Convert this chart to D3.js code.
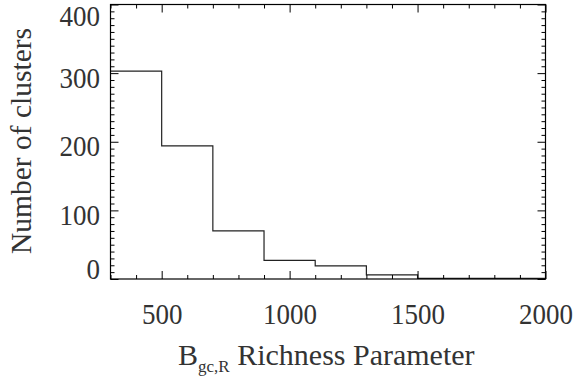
<!DOCTYPE html>
<html><head><meta charset="utf-8">
<script src="https://cdn.jsdelivr.net/npm/d3@7"></script>
<style>body{margin:0;background:#fff}
#c, #c text, #c tspan { font-family: "Times New Roman", "Liberation Serif", Times, serif; }</style>
</head><body>
<svg id="c" width="575" height="379" font-family="Liberation Serif"></svg>
<script>
// Data
const binEdges = [300, 500, 700, 900, 1100, 1300, 1500, 1700, 1900, 2000];
const counts   = [303, 194, 70, 27, 19, 6, 1, 1, 1];
const xTicks = [500, 1000, 1500, 2000];
const yTicks = [0, 100, 200, 300, 400];
const yTitle = "Number of clusters";

const svg = d3.select("#c");
const L = 110.5, R = 545.5, T = 4.5, B = 279;
const x = d3.scaleLinear().domain([300, 2000]).range([L, R]);
const y = d3.scaleLinear().domain([0, 400]).range([B, T]);
const txt = "#333";
const FF = '"Times New Roman", "Liberation Serif", serif';

// histogram path
const pts = [];
counts.forEach((c, i) => {
  pts.push([x(binEdges[i]), y(c)]);
  pts.push([x(binEdges[i + 1]), y(c)]);
});
svg.append("path").attr("d", d3.line()(pts)).attr("fill", "none")
  .attr("stroke", "#222").attr("stroke-width", 1.2);

// frame
svg.append("rect").attr("x", L).attr("y", T).attr("width", R - L).attr("height", B - T)
  .attr("fill", "none").attr("stroke", "#000").attr("stroke-width", 1.2);

function ticks(axisGen, tx, ty) {
  const g = svg.append("g").attr("transform", `translate(${tx},${ty})`).call(axisGen);
  g.select(".domain").remove();
  g.attr("font-family", null).attr("font-size", null);
  g.selectAll("line").attr("stroke", "#000").attr("stroke-width", 1);
  return g;
}
const xMinor = d3.range(300, 2001, 100).filter(v => !xTicks.includes(v));
const yMinor10 = d3.range(0, 401, 10).filter(v => !yTicks.includes(v));
// bottom
ticks(d3.axisTop(x).tickValues(xMinor).tickSize(4).tickFormat(""), 0, B);
ticks(d3.axisTop(x).tickValues(xTicks).tickSize(8).tickFormat(""), 0, B);
// top
ticks(d3.axisBottom(x).tickValues(xMinor).tickSize(4).tickFormat(""), 0, T);
ticks(d3.axisBottom(x).tickValues(xTicks).tickSize(8).tickFormat(""), 0, T);
// left
ticks(d3.axisRight(y).tickValues(yMinor10).tickSize(4).tickFormat(""), L, 0);
ticks(d3.axisRight(y).tickValues(yTicks).tickSize(8).tickFormat(""), L, 0);
// right
ticks(d3.axisLeft(y).tickValues(yMinor10).tickSize(4).tickFormat(""), R, 0);
ticks(d3.axisLeft(y).tickValues(yTicks).tickSize(8).tickFormat(""), R, 0);

// x tick labels
const xl = ticks(d3.axisBottom(x).tickValues(xTicks).tickSize(0).tickPadding(0).tickFormat(d3.format("d")), 0, B);
xl.selectAll("text").attr("x", null).attr("y", null).attr("dy", 0)
  .attr("transform", "translate(0,44.5) scale(1,1.1)")
  .attr("font-family", FF).style("font-family", FF)
  .attr("font-size", 27).attr("fill", txt);
// y tick labels (kept inside the frame's vertical extent)
const yl = ticks(d3.axisLeft(y).tickValues(yTicks).tickSize(0).tickPadding(0).tickFormat(d3.format("d")), L, 0);
yl.selectAll("text").attr("x", null).attr("y", null).attr("dy", 0)
  .attr("transform", d => {
    const base = Math.max(25, Math.min(278, y(d) + 14));
    return `translate(-10.5,${base - y(d)}) scale(1,1.1)`;
  })
  .attr("font-family", FF).style("font-family", FF)
  .attr("font-size", 27).attr("fill", txt);

// axis titles
const xt = svg.append("text").attr("x", 178).attr("y", 364.5).attr("font-family", FF).style("font-family", FF)
  .attr("font-size", 30).attr("fill", txt);
xt.append("tspan").text("B");
xt.append("tspan").attr("font-size", 17).attr("dy", 7).text("gc,R");
xt.append("tspan").attr("dy", -7).text(" Richness Parameter");

svg.append("text").attr("transform", "translate(31,141) rotate(-90)").attr("font-family", FF).style("font-family", FF)
  .attr("text-anchor", "middle").attr("font-size", 29.5)
  .attr("fill", txt).text(yTitle);
</script>
</body></html>
